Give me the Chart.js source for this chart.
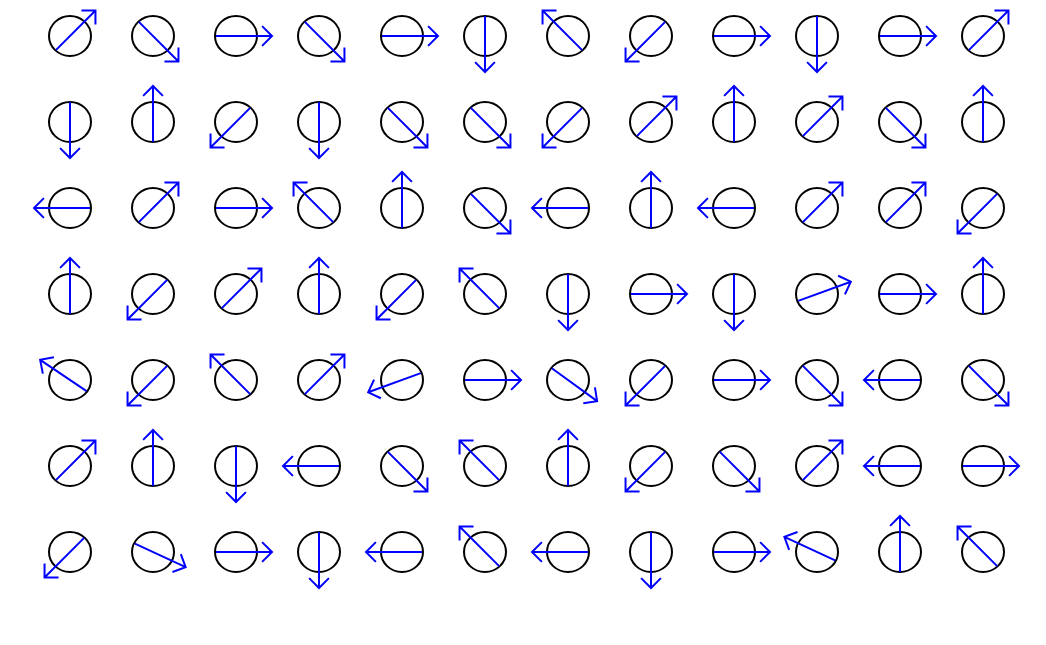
<!DOCTYPE html>
<html>
<head>
<meta charset="utf-8">
<script src="https://cdn.jsdelivr.net/npm/chart.js@4/dist/chart.umd.min.js"></script>
<style>
  html, body { margin: 0; padding: 0; background: #fff; }
  #wrap { width: 1046px; height: 645px; }
</style>
</head>
<body>
<div id="wrap"><canvas id="c"></canvas></div>
<script>
// Arrow directions per row, degrees (0 = east, 90 = north)
const row1 = [45, -45, 0, -45, 0, -90, 135, -135, 0, -90, 0, 45];
const row2 = [-90, 90, -135, -90, -45, -45, -135, 45, 90, 45, -45, 90];
const row3 = [180, 45, 0, 135, 90, -45, 180, 90, 180, 45, 45, -135];
const row4 = [90, -135, 45, 90, -135, 135, -90, 0, -90, 20, 0, 90];
const row5 = [146, -135, 135, 45, 200, 0, -36, -135, 0, -45, 180, -45];
const row6 = [45, 90, -90, 180, -45, 135, 90, -135, -45, 45, 180, 0];
const row7 = [-135, -25, 0, -90, 180, 135, 180, -90, 0, 155, 90, 135];
const rows = [row1, row2, row3, row4, row5, row6, row7];

const points = [];
rows.forEach((r, i) => r.forEach((a, j) => points.push({ x: j + 1, y: i + 1, a })));

const glyphs = {
  id: 'glyphs',
  afterDatasetsDraw(chart) {
    const ctx = chart.ctx;
    const xs = chart.scales.x, ys = chart.scales.y;
    ctx.save();
    points.forEach(p => {
      const cx = xs.getPixelForValue(p.x), cy = ys.getPixelForValue(p.y);
      ctx.strokeStyle = '#000';
      ctx.lineWidth = 2;
      ctx.beginPath();
      ctx.ellipse(cx, cy, 21, 20, 0, 0, Math.PI * 2);
      ctx.stroke();
      const t = p.a * Math.PI / 180;
      const dx = Math.cos(t), dy = -Math.sin(t);
      const x0 = cx - 20 * dx, y0 = cy - 20 * dy;
      const x1 = cx + 36 * dx, y1 = cy + 36 * dy;
      ctx.strokeStyle = '#0000ff';
      ctx.lineWidth = 2;
      ctx.beginPath();
      ctx.moveTo(x0, y0); ctx.lineTo(x1, y1);
      const h = 14, s = Math.PI / 4;
      const back = Math.atan2(-dy, -dx);
      ctx.moveTo(x1 + h * Math.cos(back + s), y1 + h * Math.sin(back + s));
      ctx.lineTo(x1, y1);
      ctx.lineTo(x1 + h * Math.cos(back - s), y1 + h * Math.sin(back - s));
      ctx.stroke();
    });
    ctx.restore();
  }
};

new Chart(document.getElementById('c'), {
  type: 'scatter',
  data: { datasets: [{ data: points, pointRadius: 0 }] },
  options: {
    responsive: true,
    maintainAspectRatio: false,
    animation: false,
    layout: { padding: 0 },
    plugins: { legend: { display: false }, tooltip: { enabled: false } },
    scales: {
      x: { display: false, min: 1 - 70 / 83, max: 1 + 976 / 83 },
      y: { display: false, reverse: true, min: 1 - 36 / 86, max: 1 + 609 / 86 }
    }
  },
  plugins: [glyphs]
});
</script>
</body>
</html>
